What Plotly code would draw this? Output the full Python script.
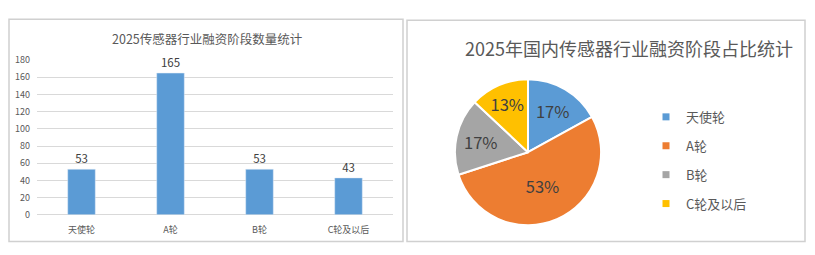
import plotly.graph_objects as go

categories = ["天使轮", "A轮", "B轮", "C轮及以后"]
counts = [53, 165, 53, 43]
pie_pct = [17, 53, 17, 13]
colors = ["#5B9BD5", "#ED7D31", "#A5A5A5", "#FFC000"]
y_ticks = [0, 20, 40, 60, 80, 100, 120, 140, 160, 180]
bar_title = "2025传感器行业融资阶段数量统计"
pie_title = "2025年国内传感器行业融资阶段占比统计"

W, H = 815, 255
FONT = "Noto Sans CJK SC, Noto Sans, sans-serif"

def px(x):
    return x / W

def py(y):
    return 1 - y / H

fig = go.Figure()

fig.add_trace(go.Bar(
    x=categories, y=counts, marker_color=colors[0], width=0.31,
    text=counts, textposition="outside", cliponaxis=False,
    textfont=dict(size=11.5, color="#404040", family=FONT),
    showlegend=False, xaxis="x", yaxis="y",
))

fig.add_trace(go.Pie(
    labels=categories, values=pie_pct, sort=False, direction="clockwise",
    rotation=0, marker=dict(colors=colors, line=dict(color="white", width=2)),
    textinfo="percent", texttemplate="%{value}%", textposition="inside",
    insidetextorientation="horizontal",
    textfont=dict(size=16.5, color="#404040", family=FONT),
    domain=dict(x=[px(451), px(605)], y=[py(230), py(76)]),
    showlegend=False, hoverinfo="label+percent",
))

for i, (c, col) in enumerate(zip(categories, colors)):
    fig.add_trace(go.Scatter(
        x=[None], y=[None], mode="markers", name=c,
        marker=dict(symbol="square", size=7, color=col),
        legendgroup=f"g{i}", showlegend=True, xaxis="x", yaxis="y",
    ))

fig.update_layout(
    width=W, height=H, margin=dict(l=0, r=0, t=0, b=0),
    paper_bgcolor="white", plot_bgcolor="white",
    font=dict(family=FONT, color="#595959"),
    bargap=0.69,
    xaxis=dict(domain=[px(37), px(393)], showgrid=False, showline=False,
               zeroline=False, ticks="", tickfont=dict(size=9, color="#595959"),
               ticklabelstandoff=8, fixedrange=True),
    yaxis=dict(domain=[py(219), py(56)], range=[0, 180], tickvals=y_ticks,
               showgrid=True, gridcolor="#D9D9D9", gridwidth=1,
               zeroline=True, zerolinecolor="#D9D9D9", zerolinewidth=1,
               showline=False, ticks="", tickfont=dict(size=9, color="#595959"),
               ticklabelstandoff=6, fixedrange=True),
    legend=dict(x=px(646), y=py(100), xanchor="left", yanchor="top",
                font=dict(size=13, color="#595959", family=FONT),
                tracegroupgap=9, itemwidth=30, bgcolor="rgba(0,0,0,0)"),
    shapes=[
        dict(type="rect", xref="paper", yref="paper", x0=px(9), x1=px(403),
             y0=py(247), y1=py(13), line=dict(color="#D0D0D0", width=1.5)),
        dict(type="rect", xref="paper", yref="paper", x0=px(407), x1=px(805),
             y0=py(247), y1=py(14), line=dict(color="#D0D0D0", width=1.5)),
    ],
    annotations=[
        dict(text=bar_title, x=px(207), y=py(33), xref="paper", yref="paper",
             xanchor="center", yanchor="middle", showarrow=False,
             font=dict(size=12.5, color="#595959", family=FONT)),
        dict(text=pie_title, x=px(629), y=py(43), xref="paper", yref="paper",
             xanchor="center", yanchor="middle", showarrow=False,
             font=dict(size=18, color="#595959", family=FONT)),
    ],
)

fig.write_html("out.html")
